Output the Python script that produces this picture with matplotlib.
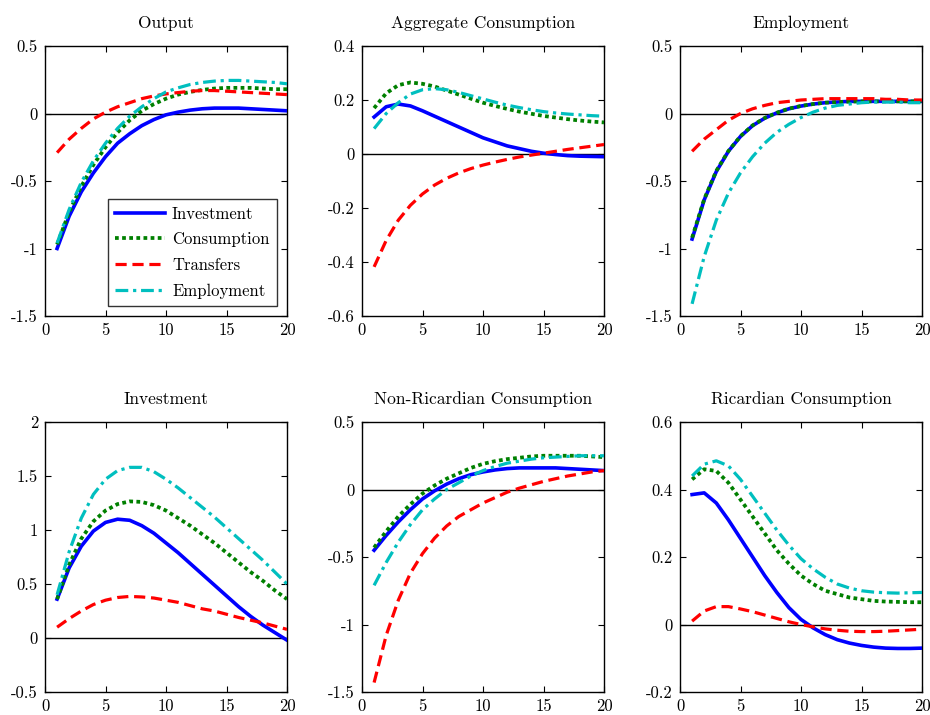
import matplotlib
matplotlib.use("Agg")
import matplotlib.pyplot as plt
import numpy as np

plt.rcParams["font.family"] = ["cmr10", "DejaVu Serif"]
plt.rcParams["axes.unicode_minus"] = False
plt.rcParams["mathtext.fontset"] = "cm"

horizon = list(range(1, 21))
series_names = ["Investment", "Consumption", "Transfers", "Employment"]

# Output
output_inv = [-1.0, -0.76, -0.58, -0.44, -0.32, -0.22, -0.15, -0.09, -0.045, -0.01,
              0.01, 0.025, 0.035, 0.04, 0.04, 0.04, 0.035, 0.03, 0.025, 0.02]
output_con = [-0.97, -0.73, -0.54, -0.38, -0.25, -0.14, -0.05, 0.02, 0.07, 0.11,
              0.14, 0.16, 0.175, 0.185, 0.19, 0.19, 0.19, 0.185, 0.18, 0.18]
output_tra = [-0.29, -0.19, -0.11, -0.04, 0.01, 0.05, 0.08, 0.11, 0.13, 0.145,
              0.155, 0.165, 0.17, 0.17, 0.165, 0.16, 0.155, 0.15, 0.145, 0.14]
output_emp = [-0.96, -0.71, -0.51, -0.35, -0.22, -0.11, -0.02, 0.05, 0.11, 0.16,
              0.19, 0.215, 0.23, 0.24, 0.245, 0.245, 0.24, 0.235, 0.23, 0.22]

# Aggregate consumption
aggc_inv = [0.137, 0.175, 0.185, 0.178, 0.16, 0.14, 0.12, 0.10, 0.08, 0.06,
            0.045, 0.03, 0.02, 0.01, 0.003, -0.002, -0.006, -0.008, -0.009, -0.01]
aggc_con = [0.17, 0.225, 0.255, 0.265, 0.26, 0.25, 0.235, 0.22, 0.205, 0.19,
            0.178, 0.167, 0.157, 0.149, 0.141, 0.135, 0.129, 0.124, 0.12, 0.117]
aggc_tra = [-0.418, -0.32, -0.245, -0.19, -0.148, -0.115, -0.09, -0.07, -0.054, -0.041,
            -0.03, -0.02, -0.011, -0.004, 0.003, 0.01, 0.017, 0.023, 0.029, 0.035]
aggc_emp = [0.094, 0.15, 0.19, 0.222, 0.238, 0.242, 0.238, 0.228, 0.216, 0.204,
            0.192, 0.181, 0.172, 0.164, 0.157, 0.152, 0.148, 0.145, 0.142, 0.14]

# Employment
empl_inv = [-0.93, -0.64, -0.43, -0.28, -0.17, -0.09, -0.035, 0.005, 0.035, 0.055,
            0.07, 0.08, 0.085, 0.09, 0.09, 0.09, 0.09, 0.09, 0.09, 0.09]
empl_con = [-0.92, -0.635, -0.425, -0.278, -0.168, -0.088, -0.033, 0.006, 0.036, 0.056,
            0.07, 0.08, 0.085, 0.088, 0.09, 0.09, 0.09, 0.09, 0.09, 0.09]
empl_tra = [-0.28, -0.19, -0.12, -0.05, 0.0, 0.035, 0.06, 0.08, 0.09, 0.10,
            0.105, 0.11, 0.11, 0.11, 0.11, 0.11, 0.105, 0.105, 0.10, 0.10]
empl_emp = [-1.41, -1.06, -0.79, -0.59, -0.44, -0.32, -0.22, -0.14, -0.08, -0.03,
            0.01, 0.04, 0.06, 0.07, 0.08, 0.085, 0.085, 0.085, 0.08, 0.08]

# Investment
invs_inv = [0.36, 0.65, 0.85, 0.99, 1.07, 1.10, 1.09, 1.04, 0.97, 0.88,
            0.79, 0.69, 0.59, 0.49, 0.39, 0.29, 0.20, 0.12, 0.05, -0.02]
invs_con = [0.36, 0.68, 0.92, 1.08, 1.18, 1.24, 1.265, 1.26, 1.23, 1.18,
            1.11, 1.04, 0.96, 0.88, 0.79, 0.70, 0.61, 0.53, 0.44, 0.36]
invs_tra = [0.10, 0.18, 0.25, 0.31, 0.35, 0.375, 0.385, 0.38, 0.37, 0.35,
            0.33, 0.30, 0.27, 0.25, 0.22, 0.19, 0.165, 0.14, 0.11, 0.08]
invs_emp = [0.40, 0.80, 1.11, 1.33, 1.47, 1.55, 1.58, 1.58, 1.54, 1.47,
            1.39, 1.30, 1.21, 1.12, 1.02, 0.92, 0.82, 0.72, 0.61, 0.50]

# Non-Ricardian consumption
nric_inv = [-0.45, -0.34, -0.24, -0.15, -0.07, -0.01, 0.04, 0.08, 0.11, 0.13,
            0.145, 0.155, 0.16, 0.16, 0.16, 0.16, 0.155, 0.15, 0.145, 0.14]
nric_con = [-0.43, -0.31, -0.20, -0.11, -0.03, 0.03, 0.08, 0.12, 0.16, 0.19,
            0.21, 0.225, 0.235, 0.245, 0.25, 0.25, 0.25, 0.25, 0.245, 0.24]
nric_tra = [-1.43, -1.08, -0.82, -0.62, -0.475, -0.36, -0.27, -0.20, -0.15, -0.10,
            -0.06, -0.02, 0.01, 0.035, 0.06, 0.08, 0.10, 0.115, 0.13, 0.14]
nric_emp = [-0.71, -0.54, -0.39, -0.26, -0.15, -0.07, 0.0, 0.05, 0.10, 0.14,
            0.17, 0.195, 0.21, 0.225, 0.235, 0.24, 0.245, 0.25, 0.25, 0.25]

# Ricardian consumption
ric_inv = [0.385, 0.39, 0.36, 0.31, 0.255, 0.20, 0.145, 0.095, 0.05, 0.015,
           -0.01, -0.03, -0.045, -0.055, -0.062, -0.067, -0.07, -0.071, -0.071, -0.07]
ric_con = [0.43, 0.46, 0.455, 0.42, 0.37, 0.32, 0.27, 0.22, 0.18, 0.145,
           0.12, 0.10, 0.09, 0.08, 0.075, 0.07, 0.068, 0.067, 0.066, 0.066]
ric_tra = [0.01, 0.04, 0.053, 0.053, 0.046, 0.038, 0.028, 0.018, 0.008, 0.0,
           -0.007, -0.013, -0.017, -0.02, -0.021, -0.021, -0.02, -0.018, -0.016, -0.014]
ric_emp = [0.44, 0.475, 0.485, 0.47, 0.43, 0.38, 0.33, 0.28, 0.235, 0.195,
           0.165, 0.14, 0.12, 0.108, 0.10, 0.096, 0.094, 0.093, 0.094, 0.095]

panel_titles = ["Output", "Aggregate Consumption", "Employment",
                "Investment", "Non-Ricardian Consumption", "Ricardian Consumption"]
panel_data = [
    (output_inv, output_con, output_tra, output_emp),
    (aggc_inv, aggc_con, aggc_tra, aggc_emp),
    (empl_inv, empl_con, empl_tra, empl_emp),
    (invs_inv, invs_con, invs_tra, invs_emp),
    (nric_inv, nric_con, nric_tra, nric_emp),
    (ric_inv, ric_con, ric_tra, ric_emp),
]
panel_yticks = [
    [-1.5, -1, -0.5, 0, 0.5],
    [-0.6, -0.4, -0.2, 0, 0.2, 0.4],
    [-1.5, -1, -0.5, 0, 0.5],
    [-0.5, 0, 0.5, 1, 1.5, 2],
    [-1.5, -1, -0.5, 0, 0.5],
    [-0.2, 0, 0.2, 0.4, 0.6],
]
xticks = [0, 5, 10, 15, 20]

styles = [
    dict(color=(0, 0, 1), linestyle="-", linewidth=2.6),
    dict(color=(0, 0.5, 0), linestyle=(0, (1, 0.9)), linewidth=2.7),
    dict(color=(1, 0, 0), linestyle=(0, (3.5, 1.8)), linewidth=2.3),
    dict(color=(0, 0.75, 0.75), linestyle=(0, (4, 1.5, 1, 1.5)), linewidth=2.3),
]

fig = plt.figure(figsize=(9.3, 7.15), dpi=100)
lefts = [45 / 930, 362 / 930, 680 / 930]
bottoms = [1 - 316 / 715, 1 - 692 / 715]
w = 242 / 930
h = 270 / 715


def fmt(v):
    return "%g" % v


for i, (title, data, yt) in enumerate(zip(panel_titles, panel_data, panel_yticks)):
    r, c = divmod(i, 3)
    ax = fig.add_axes([lefts[c], bottoms[r], w, h])
    ax.axhline(0, color="black", linewidth=1.0, zorder=1)
    handles = []
    for vals, st, name in zip(data, styles, series_names):
        ln, = ax.plot(horizon, vals, label=name, zorder=3, **st)
        handles.append(ln)
    ax.set_xlim(0, 20)
    ax.set_ylim(yt[0], yt[-1])
    ax.set_xticks(xticks)
    ax.set_xticklabels([fmt(v) for v in xticks])
    ax.set_yticks(yt)
    ax.set_yticklabels([fmt(v) for v in yt])
    ax.tick_params(direction="in", top=True, right=True, length=4,
                   labelsize=12, pad=5)
    for sp in ax.spines.values():
        sp.set_linewidth(1.0)
    ax.set_title(title, fontsize=12.5, pad=13)
    if i == 0:
        leg = ax.legend(handles=handles, loc="lower right", fontsize=12,
                        frameon=True, fancybox=False, edgecolor="black",
                        handlelength=3.0, handletextpad=0.4, borderpad=0.45,
                        labelspacing=0.62, borderaxespad=0.6)
        leg.get_frame().set_linewidth(1.0)

fig.savefig("out.png", dpi=100)
